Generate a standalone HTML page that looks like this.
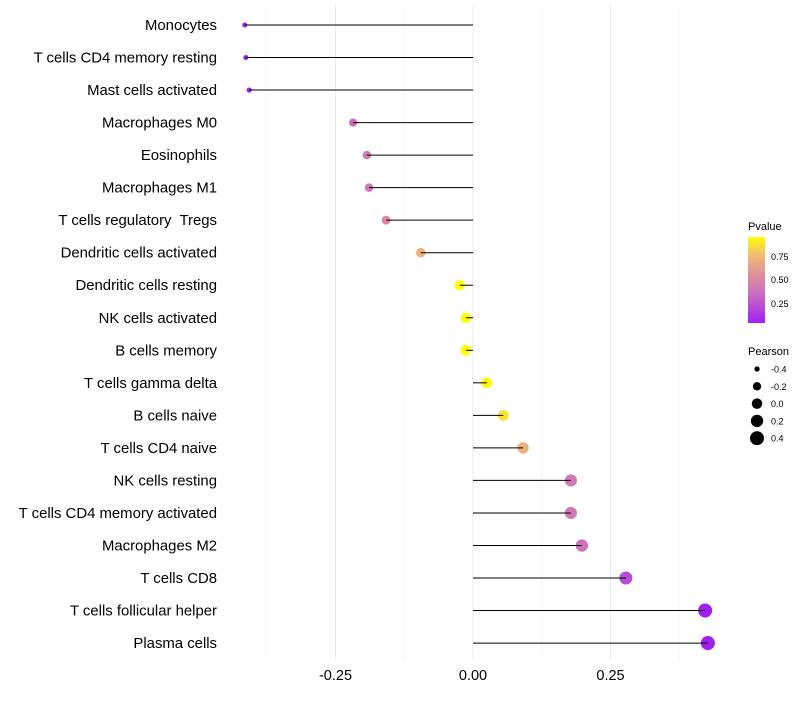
<!DOCTYPE html>
<html><head><meta charset="utf-8"><style>
body{margin:0;background:#fff;font-family:"Liberation Sans",sans-serif}
</style></head><body>
<svg id="chart" width="800" height="700" xmlns="http://www.w3.org/2000/svg">
<defs><linearGradient id="pg" x1="0" y1="1" x2="0" y2="0">
<stop offset="0" stop-color="#a020f0"/><stop offset="0.35" stop-color="#cc6fc0"/><stop offset="0.55" stop-color="#dc8e9c"/><stop offset="0.8" stop-color="#f2be72"/><stop offset="1" stop-color="#ffff00"/></linearGradient></defs>
<g id="grid"></g>
<g id="marks"></g>
<g id="ylabels"></g>
<g id="xlabels"></g>
<g>
<text x="748" y="230" font-size="11" fill="#000">Pvalue</text>
<rect x="748" y="237" width="17" height="86" fill="url(#pg)"/>
<text x="771" y="260" font-size="9">0.75</text>
<text x="771" y="283" font-size="9">0.50</text>
<text x="771" y="307" font-size="9">0.25</text>
</g>
<g id="sizeleg">
<text x="748" y="355" font-size="11">Pearson</text>
</g>
</svg>
<script>
const categories=["Monocytes","T cells CD4 memory resting","Mast cells activated","Macrophages M0","Eosinophils","Macrophages M1","T cells regulatory\u00a0 Tregs","Dendritic cells activated","Dendritic cells resting","NK cells activated","B cells memory","T cells gamma delta","B cells naive","T cells CD4 naive","NK cells resting","T cells CD4 memory activated","Macrophages M2","T cells CD8","T cells follicular helper","Plasma cells"];
const pearson=[-0.415,-0.413,-0.407,-0.218,-0.193,-0.189,-0.158,-0.095,-0.024,-0.013,-0.013,0.025,0.055,0.091,0.178,0.178,0.198,0.278,0.422,0.427];
const pvalue=[0.02,0.02,0.03,0.35,0.4,0.4,0.5,0.72,0.95,0.97,0.97,0.93,0.87,0.72,0.42,0.42,0.38,0.22,0.03,0.02];
const xTicks=[-0.25,0,0.25];
const xTickLabels=["-0.25","0.00","0.25"];
const xMinor=[-0.375,-0.125,0.125,0.375];
const sizeLegend=[-0.4,-0.2,0,0.2,0.4];
const NS="http://www.w3.org/2000/svg";
const xs=v=>473+v*550;
const ys=i=>25+i*32.53;
const rs=v=>Math.sqrt(6+(v+0.42)/0.85*44);
const stops=[[0,[160,32,240]],[0.35,[204,111,192]],[0.55,[222,140,160]],[0.8,[242,190,114]],[1,[255,255,0]]];
function col(p){let t=Math.max(0,Math.min(1,(p-0.04)/0.91));for(let k=1;k<stops.length;k++){if(t<=stops[k][0]){const a=stops[k-1],b=stops[k],f=(t-a[0])/(b[0]-a[0]);return "rgb("+a[1].map((c,j)=>Math.round(c+(b[1][j]-c)*f)).join(",")+")";}}return "rgb(255,255,0)";}
function mk(tag,at,parent){const e=document.createElementNS(NS,tag);for(const k in at)e.setAttribute(k,at[k]);parent.appendChild(e);return e;}
const grid=document.getElementById('grid'),marks=document.getElementById('marks'),yl=document.getElementById('ylabels'),xl=document.getElementById('xlabels'),sl=document.getElementById('sizeleg');
xMinor.forEach(v=>{const l=mk('line',{x1:xs(v),x2:xs(v),y1:5,y2:660,stroke:'#f0f0f0','stroke-width':0.6},grid);

});
xTicks.forEach((v,i)=>{const l=mk('line',{x1:xs(v),x2:xs(v),y1:5,y2:660,stroke:'#ebebeb','stroke-width':1},grid);


const t=mk('text',{x:xs(v),y:680,'font-size':14.5,'text-anchor':'middle',fill:'#000'},xl);t.textContent=xTickLabels[i];

});
categories.forEach((c,i)=>{const y=ys(i);
const d=mk('circle',{cx:xs(pearson[i]),cy:y,r:rs(pearson[i]),fill:col(pvalue[i])},marks);


const l=mk('line',{x1:xs(0),x2:xs(pearson[i]),y1:y,y2:y,stroke:'#000','stroke-width':1},marks);


const t=mk('text',{x:217,y:y+5,'font-size':14.9,'text-anchor':'end',fill:'#000'},yl);t.textContent=c;

});
sizeLegend.forEach((v,i)=>{const y=369+i*17.3;
const c=mk('circle',{cx:757,cy:y,r:rs(v),fill:'#000'},sl);


const t=mk('text',{x:771,y:y+3.5,'font-size':9},sl);t.textContent=v.toFixed(1);

});
</script>
</body></html>
